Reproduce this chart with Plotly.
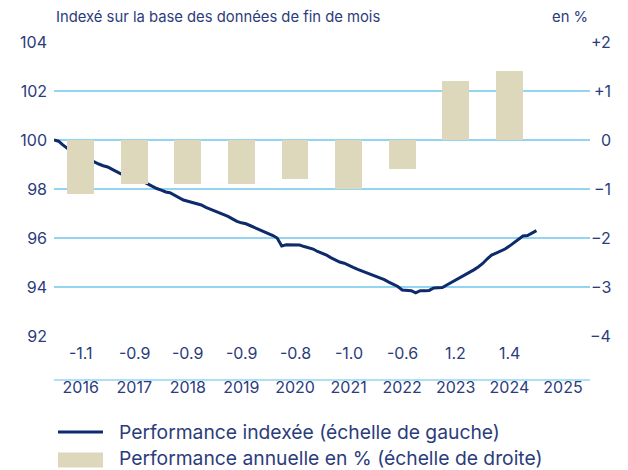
import plotly.graph_objects as go

# ---------------- data ----------------
years = [2016, 2017, 2018, 2019, 2020, 2021, 2022, 2023, 2024, 2025]
bar_years = [2016, 2017, 2018, 2019, 2020, 2021, 2022, 2023, 2024]
annual_perf = [-1.1, -0.9, -0.9, -0.9, -0.8, -1.0, -0.6, 1.2, 1.4]
annual_labels = ["-1.1", "-0.9", "-0.9", "-0.9", "-0.8", "-1.0", "-0.6", "1.2", "1.4"]

# month-end index values (start = 100), Dec 2015 .. Dec 2024
index_values = [
    100.0, 99.95, 99.8, 99.65, 99.52, 99.45, 99.35, 99.28, 99.2, 99.1, 99.02, 98.95, 98.9,
    98.8, 98.7, 98.62, 98.55, 98.5, 98.45, 98.4, 98.3, 98.2, 98.1, 98.02, 97.95,
    97.88, 97.85, 97.75, 97.65, 97.55, 97.5, 97.45, 97.42, 97.35, 97.25, 97.18, 97.1,
    97.05, 96.97, 96.88, 96.78, 96.68, 96.62, 96.58, 96.5, 96.42, 96.33, 96.26, 96.2,
    96.1, 96.0, 95.67, 95.72, 95.72, 95.72, 95.71, 95.65, 95.59, 95.55, 95.45, 95.38,
    95.3, 95.2, 95.1, 95.02, 94.97, 94.9, 94.8, 94.72, 94.65, 94.58, 94.52, 94.45,
    94.35, 94.3, 94.2, 94.12, 94.02, 93.88, 93.86, 93.85, 93.76, 93.85, 93.85, 93.86,
    93.96, 93.97, 93.98, 94.08, 94.18, 94.28, 94.38, 94.48, 94.57, 94.7, 94.82, 94.96,
    95.15, 95.3, 95.38, 95.45, 95.55, 95.67, 95.8, 95.92, 96.08, 96.1, 96.2, 96.3,
]
index_dates = [f"{2016 + k // 12}-{k % 12 + 1:02d}-01" for k in range(len(index_values))]

left_ticks = [92, 94, 96, 98, 100, 102, 104]
right_ticks = [-4, -3, -2, -1, 0, 1, 2]
right_tick_labels = ["\u22124", "\u22123", "\u22122", "\u22121", "0", "+1", "+2"]

title_left = "Indexé sur la base des données de fin de mois"
title_right = "en %"
legend_line = "Performance indexée (échelle de gauche)"
legend_bar = "Performance annuelle en % (échelle de droite)"

# ---------------- styles ----------------
FONT = "Inter"
TXT = "#2b3c7c"
NAVY = "#0d2a6b"
BEIGE = "#ddd8bb"
GRID = "#93d5f0"

bar_dates = [f"{y}-07-01" for y in bar_years]
year_ticks = [f"{y}-07-01" for y in years]
half_year_ms = 182 * 24 * 3600 * 1000

fig = go.Figure()
fig.add_trace(go.Bar(
    x=bar_dates, y=annual_perf, yaxis="y2", width=half_year_ms,
    marker=dict(color=BEIGE, line=dict(width=0)), showlegend=False,
))
fig.add_trace(go.Scatter(
    x=index_dates, y=index_values, yaxis="y", mode="lines",
    line=dict(color=NAVY, width=3), showlegend=False,
))

annotations = []
# value labels under plot
for d, lab in zip(bar_dates, annual_labels):
    annotations.append(dict(x=d, xref="x", y=-0.058, yref="paper", text=lab,
                            showarrow=False, font=dict(size=16, color=TXT, family=FONT),
                            xanchor="center", yanchor="middle"))
# right axis labels (right aligned)
for v, lab in zip(right_ticks, right_tick_labels):
    annotations.append(dict(x=1.0, xref="paper", xshift=23, y=v, yref="y2", text=lab,
                            showarrow=False, font=dict(size=16, color=TXT, family=FONT),
                            xanchor="right", yanchor="middle"))
annotations += [
    dict(x=0, xref="paper", y=1.085, yref="paper", text=title_left, showarrow=False,
         xanchor="left", yanchor="middle", font=dict(size=14.8, color=TXT, family=FONT)),
    dict(x=1, xref="paper", y=1.085, yref="paper", text=title_right, showarrow=False,
         xanchor="right", yanchor="middle", font=dict(size=14.8, color=TXT, family=FONT)),
    dict(x=0.1175, xref="paper", y=-0.3265, yref="paper", text=legend_line, showarrow=False,
         xanchor="left", yanchor="middle", font=dict(size=19.3, color=TXT, family=FONT)),
    dict(x=0.1175, xref="paper", y=-0.415, yref="paper", text=legend_bar, showarrow=False,
         xanchor="left", yanchor="middle", font=dict(size=19.3, color=TXT, family=FONT)),
]

shapes = [
    dict(type="line", xref="paper", yref="paper", x0=0, x1=1, y0=-0.1497, y1=-0.1497,
         line=dict(color=GRID, width=1.5)),
    dict(type="line", xref="paper", yref="paper", x0=0.0075, x1=0.0914, y0=-0.3265, y1=-0.3265,
         line=dict(color=NAVY, width=3)),
    dict(type="rect", xref="paper", yref="paper", x0=0.0075, x1=0.0914, y0=-0.447, y1=-0.396,
         fillcolor=BEIGE, line=dict(width=0)),
]

fig.update_layout(
    width=628, height=470,
    margin=dict(l=54, r=38, t=42, b=134),
    paper_bgcolor="white", plot_bgcolor="white",
    font=dict(family=FONT, color=TXT, size=16),
    annotations=annotations, shapes=shapes,
    bargap=0,
    xaxis=dict(
        type="date", range=["2016-01-01", "2026-01-01"],
        tickvals=year_ticks, ticktext=[str(y) for y in years],
        showgrid=False, zeroline=False, showline=False,
        ticks="", ticklabelstandoff=40,
        tickfont=dict(size=16, color=TXT, family=FONT),
    ),
    yaxis=dict(
        range=[92, 104], tickvals=left_ticks, showgrid=True, gridcolor=GRID, gridwidth=1.5,
        zeroline=False, showline=False, ticks="", ticklabelstandoff=6,
        tickfont=dict(size=16, color=TXT, family=FONT),
    ),
    yaxis2=dict(
        range=[-4, 2], overlaying="y", side="right", showgrid=False, zeroline=False,
        showticklabels=False, tickvals=right_ticks,
    ),
)

fig.write_html("out.html", post_script="document.body.style.margin='0';",
               config={"displayModeBar": False})
